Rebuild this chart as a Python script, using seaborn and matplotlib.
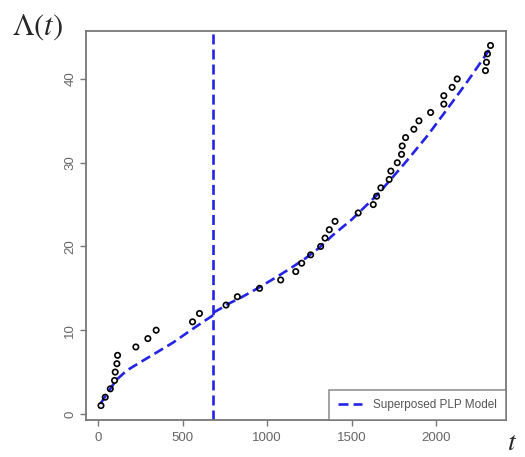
import numpy as np
import pandas as pd
import matplotlib
matplotlib.use("Agg")
from matplotlib import pyplot as plt
import seaborn as sns

# Observed failure times and cumulative counts
fail_times = [18, 43, 73, 98, 102, 112, 116, 224, 295, 344, 559, 600, 757, 824,
              955, 1080, 1169, 1204, 1257, 1316, 1342, 1367, 1401, 1538, 1627,
              1647, 1672, 1721, 1731, 1769, 1794, 1798, 1818, 1867, 1897, 1966,
              2044, 2044, 2093, 2123, 2290, 2296, 2302, 2320]
cum_count = list(range(1, len(fail_times) + 1))

# Fitted superposed PLP curve (before / after change point)
change_point = 682
fit_t1 = [14, 73, 108, 171, 269, 368, 446, 545, 633, 682]
fit_y1 = [1.2, 3.0, 4.05, 5.2, 6.4, 7.6, 8.55, 9.95, 11.15, 11.8]
fit_t2 = [682, 722, 761, 850, 948, 1047, 1135, 1224, 1302, 1391, 1499, 1647,
          1726, 1824, 1950, 2060, 2180, 2276, 2316]
fit_y2 = [12.1, 12.55, 13.05, 13.95, 15.05, 16.25, 17.35, 18.55, 19.75, 21.4,
          23.2, 26.1, 27.9, 30.2, 33.3, 36.3, 39.6, 42.4, 43.6]

obs_df = pd.DataFrame({'t': fail_times, 'N': cum_count})
fit1_df = pd.DataFrame({'t': fit_t1, 'L': fit_y1})
fit2_df = pd.DataFrame({'t': fit_t2, 'L': fit_y2})

sns.set_style("white")
plt.rcParams['font.family'] = ['Liberation Sans', 'DejaVu Sans']

fig = plt.figure(figsize=(5.25, 4.57), dpi=100)
ax = fig.add_axes([0.164, 0.081, 0.800, 0.851])

blue = '#2424e6'
dash = (0, (3.8, 1.9))

sns.lineplot(data=fit1_df, x='t', y='L', ax=ax, color=blue, lw=1.9,
             linestyle=dash, label='Superposed PLP Model', estimator=None, sort=False)
sns.lineplot(data=fit2_df, x='t', y='L', ax=ax, color=blue, lw=1.9,
             linestyle=dash, estimator=None, sort=False)
ax.axvline(change_point, color=blue, lw=1.9, linestyle=dash)

sns.scatterplot(data=obs_df, x='t', y='N', ax=ax, marker='o', s=15,
                facecolor='none', edgecolor='black', linewidth=1.2, zorder=3)

ax.set_xlim(-70, 2412)
ax.set_ylim(-0.72, 45.72)
ax.set_xticks([0, 500, 1000, 1500, 2000])
ax.set_yticks([0, 10, 20, 30, 40])
ax.set_xlabel('')
ax.set_ylabel('')

for sp in ax.spines.values():
    sp.set_color('#777777')
    sp.set_linewidth(1.3)

ax.tick_params(axis='both', direction='out', length=4.5, width=1, color='#777777',
               labelcolor='#666666', labelsize=9.5)
ax.tick_params(axis='x', bottom=True, pad=4.5)
ax.tick_params(axis='y', left=True, pad=2.5)
plt.setp(ax.get_yticklabels(), rotation=90, va='center')

leg = ax.legend(loc='lower right', frameon=True, fancybox=False, fontsize=8.5,
                handlelength=2.0, borderaxespad=0, borderpad=0.75,
                handletextpad=1.0)
leg.get_frame().set_edgecolor('#777777')
leg.get_frame().set_linewidth(1.2)
for txt in leg.get_texts():
    txt.set_color('#555555')

fig.text(0.022, 0.942, r'$\Lambda(t)$', fontsize=22, math_fontfamily='stix',
         va='center', ha='left')
fig.text(0.975, 0.03, r'$t$', fontsize=20, math_fontfamily='stix',
         va='center', ha='center')

plt.savefig('out.png', dpi=100)
